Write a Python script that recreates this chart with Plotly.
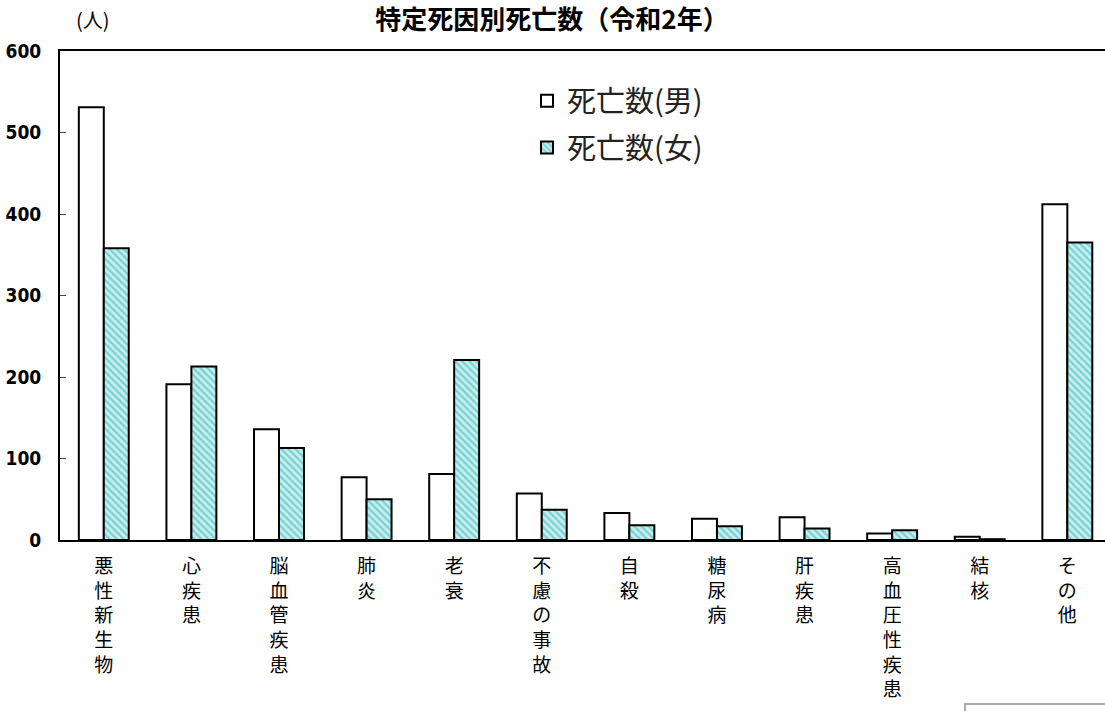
import plotly.graph_objects as go

categories = ["悪性新生物", "心疾患", "脳血管疾患", "肺炎", "老衰", "不慮の事故",
              "自殺", "糖尿病", "肝疾患", "高血圧性疾患", "結核", "その他"]
male = [531, 191, 136, 77, 81, 57, 33, 26, 28, 8, 4, 412]
female = [358, 213, 113, 50, 221, 37, 18, 17, 14, 12, 1, 365]
yticks = [0, 100, 200, 300, 400, 500, 600]
series_names = ["死亡数(男)", "死亡数(女)"]

vert_labels = ["<br>".join(list(c)) for c in categories]
xs = list(range(len(categories)))

CJK = "Noto Sans CJK JP, Noto Sans CJK SC, sans-serif"
NUM = "DejaVu Sans Condensed, Liberation Sans Narrow, sans-serif"

# plot area in pixels (for placing decorations)
L, T, B, W = 60, 51, 540, 1045
H = B - T

fig = go.Figure()
fig.add_trace(go.Bar(
    x=xs, y=male, name=series_names[0], legendgroup="m",
    marker=dict(color="white", line=dict(color="black", width=2)),
))
fig.add_trace(go.Bar(
    x=xs, y=female, name=series_names[1], legendgroup="f",
    marker=dict(color="#c4f0f0", line=dict(color="black", width=2),
                pattern=dict(shape="\\", fgcolor="#35b0b0", size=5, solidity=0.45)),
))

fig.update_layout(
    width=1105, height=711,
    paper_bgcolor="white", plot_bgcolor="white",
    margin=dict(l=L, r=0, t=T, b=711 - B, autoexpand=False),
    barmode="group", bargap=0.43, bargroupgap=0,
    showlegend=True,
    legend=dict(x=(527 - L) / W, y=0.95, xanchor="left", yanchor="top",
                font=dict(family=CJK, size=29, color="#222"),
                bgcolor="rgba(0,0,0,0)", traceorder="grouped", tracegroupgap=6),
    title=dict(text="<b>特定死因別死亡数（令和2年）</b>", x=552 / 1105, xanchor="center",
               y=1 - 20 / 711, yanchor="middle", yref="container",
               font=dict(family=CJK, size=26, color="black")),
    annotations=[dict(text="(人)", xref="paper", yref="paper", x=(93 - L) / W,
                      y=1 + (T - 19) / H, xanchor="center", yanchor="middle",
                      showarrow=False, font=dict(family=CJK, size=20, color="black"))],
    shapes=[dict(type="rect", xref="paper", yref="paper",
                 x0=(965 - L) / W, x1=1.05, y0=-(716 - B) / H, y1=-(704 - B) / H,
                 line=dict(color="#aaaaaa", width=2), fillcolor="rgba(0,0,0,0)")],
)
fig.update_xaxes(
    range=[-0.5, 11.43], tickmode="array", tickvals=xs, ticktext=vert_labels,
    showline=True, linecolor="black", linewidth=2, mirror=True, ticks="",
    showgrid=False, zeroline=False, automargin=False,
    tickfont=dict(family=CJK, size=19, color="black"), tickangle=0,
    ticklabelstandoff=8,
)
fig.update_yaxes(
    range=[0, 600], tickmode="array", tickvals=yticks,
    showline=True, linecolor="black", linewidth=2, ticks="inside", ticklen=6,
    tickcolor="#444", showgrid=False, zeroline=False, automargin=False,
    tickfont=dict(family=NUM, size=19, color="black", weight="bold"),
    ticklabelstandoff=13,
)
fig.write_html("out.html", config={"displayModeBar": False},
               post_script="document.body.style.margin='0';")
